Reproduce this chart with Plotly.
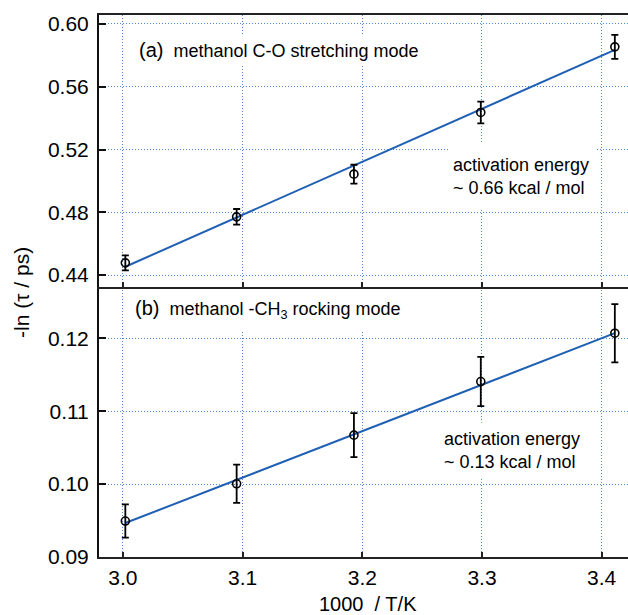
import plotly.graph_objects as go

# 1000/T (K^-1) for the five temperatures
inv_temp = [3.002, 3.095, 3.193, 3.299, 3.411]

# (a) methanol C-O stretching mode: -ln(tau/ps) and error
co_vals = [0.4478, 0.4771, 0.5043, 0.5436, 0.5854]
co_err = [0.0048, 0.0050, 0.0060, 0.0069, 0.0077]
co_fit_x = [3.002, 3.411]
co_fit_y = [0.4453, 0.5835]

# (b) methanol -CH3 rocking mode
ch3_vals = [0.09493, 0.10004, 0.10671, 0.11406, 0.12069]
ch3_err = [0.00228, 0.00263, 0.00301, 0.00338, 0.00400]
ch3_fit_x = [3.002, 3.411]
ch3_fit_y = [0.09466, 0.12070]

x_ticks = [3.0, 3.1, 3.2, 3.3, 3.4]
top_ticks = [0.44, 0.48, 0.52, 0.56, 0.60]
bot_ticks = [0.09, 0.10, 0.11, 0.12]

FONT = "Liberation Sans, Arial, Helvetica, sans-serif"
FIT_COLOR = "#1f5fb4"
GRID_COLOR = "#4f86d4"

fig = go.Figure()

def add_panel(xs, ys, errs, fx, fy, xa, ya):
    fig.add_trace(go.Scatter(
        x=fx, y=fy, mode="lines", xaxis=xa, yaxis=ya,
        line=dict(color=FIT_COLOR, width=2), showlegend=False, hoverinfo="skip"))
    fig.add_trace(go.Scatter(
        x=xs, y=ys, mode="markers", xaxis=xa, yaxis=ya,
        marker=dict(symbol="circle-open", size=8, color="black",
                    line=dict(width=1.6, color="black")),
        error_y=dict(type="data", array=errs, visible=True,
                     color="black", thickness=1.8, width=3.5),
        showlegend=False))

add_panel(inv_temp, co_vals, co_err, co_fit_x, co_fit_y, "x2", "y2")
add_panel(inv_temp, ch3_vals, ch3_err, ch3_fit_x, ch3_fit_y, "x", "y")

split = 270 / 542
x_range = [2.98, 3.422]

common_x = dict(
    range=x_range, tickvals=x_ticks, showgrid=True,
    gridcolor=GRID_COLOR, griddash="1px,2px", gridwidth=1,
    showline=True, linecolor="#222", linewidth=2,
    ticks="inside", ticklen=5, tickwidth=1.5, tickcolor="#222",
    zeroline=False,
)
common_y = dict(
    showgrid=True, gridcolor=GRID_COLOR, griddash="1px,2px", gridwidth=1,
    showline=True, linecolor="#111", linewidth=2,
    ticks="inside", ticklen=7, tickwidth=1.5, tickcolor="#111",
    zeroline=False, tickformat=".2f",
    tickfont=dict(family=FONT, size=21, color="black"),
    ticklabelstandoff=4,
)

fig.update_layout(
    width=628, height=615,
    margin=dict(l=99, r=0, t=15, b=58),
    paper_bgcolor="white", plot_bgcolor="white",
    font=dict(family=FONT, color="black"),
    xaxis=dict(**common_x, anchor="y", domain=[0, 1], tickformat=".1f",
               tickfont=dict(family=FONT, size=21, color="black"),
               ticklabelstandoff=1),
    xaxis2=dict(**common_x, anchor="y2", matches="x", showticklabels=False,
                mirror=True),
    yaxis=dict(**common_y, domain=[0, split], range=[0.09, 0.12703],
               tickvals=bot_ticks, anchor="x"),
    yaxis2=dict(**common_y, domain=[split, 1], range=[0.4324, 0.6057],
                tickvals=top_ticks, anchor="x2"),
)

# opaque backgrounds behind the text boxes (above grid, below traces)
boxes = [
    ("x2", "y2", 3.0075, 0.5738, 3.258, 0.5929),
    ("x2", "y2", 3.273, 0.4825, 3.396, 0.5240),
    ("x", "y", 3.004, 0.1210, 3.246, 0.12690),
    ("x", "y", 3.265, 0.10086, 3.398, 0.1084),
]
for xr, yr, x0, y0, x1, y1 in boxes:
    fig.add_shape(type="rect", xref=xr, yref=yr, x0=x0, y0=y0, x1=x1, y1=y1,
                  fillcolor="white", line=dict(width=0), layer="between")

ann_font = dict(family=FONT, size=18, color="black")
fig.add_annotation(xref="x2", yref="y2", x=3.0117, y=0.5836, xanchor="left",
                   yanchor="middle", showarrow=False, font=ann_font,
                   text="<span style='font-size:20px'>(a)</span>  methanol C-O stretching mode")
fig.add_annotation(xref="x2", yref="y2", x=3.2745, y=0.5027, xanchor="left",
                   yanchor="middle", showarrow=False, font=ann_font, align="left",
                   text="activation energy<br>~ 0.66 kcal / mol")
fig.add_annotation(xref="x", yref="y", x=3.0084, y=0.12390, xanchor="left",
                   yanchor="middle", showarrow=False, font=ann_font,
                   text="<span style='font-size:20px'>(b)</span>  methanol -CH<sub>3</sub> rocking mode")
fig.add_annotation(xref="x", yref="y", x=3.2665, y=0.10455, xanchor="left",
                   yanchor="middle", showarrow=False, font=ann_font, align="left",
                   text="activation energy<br>~ 0.13 kcal / mol")

# axis titles
fig.add_annotation(xref="paper", yref="paper", x=(22 - 99) / 529, y=(557 - 293) / 542,
                   xanchor="center", yanchor="middle", textangle=-90, showarrow=False,
                   font=dict(family=FONT, size=21, color="black"),
                   text="-ln (\u03c4 / ps)")
fig.add_annotation(xref="paper", yref="paper", x=(368 - 99) / 529, y=(557 - 604) / 542,
                   xanchor="center", yanchor="middle", showarrow=False,
                   font=dict(family=FONT, size=20, color="black"),
                   text="1000  / T/K")

fig.write_html("out.html")
